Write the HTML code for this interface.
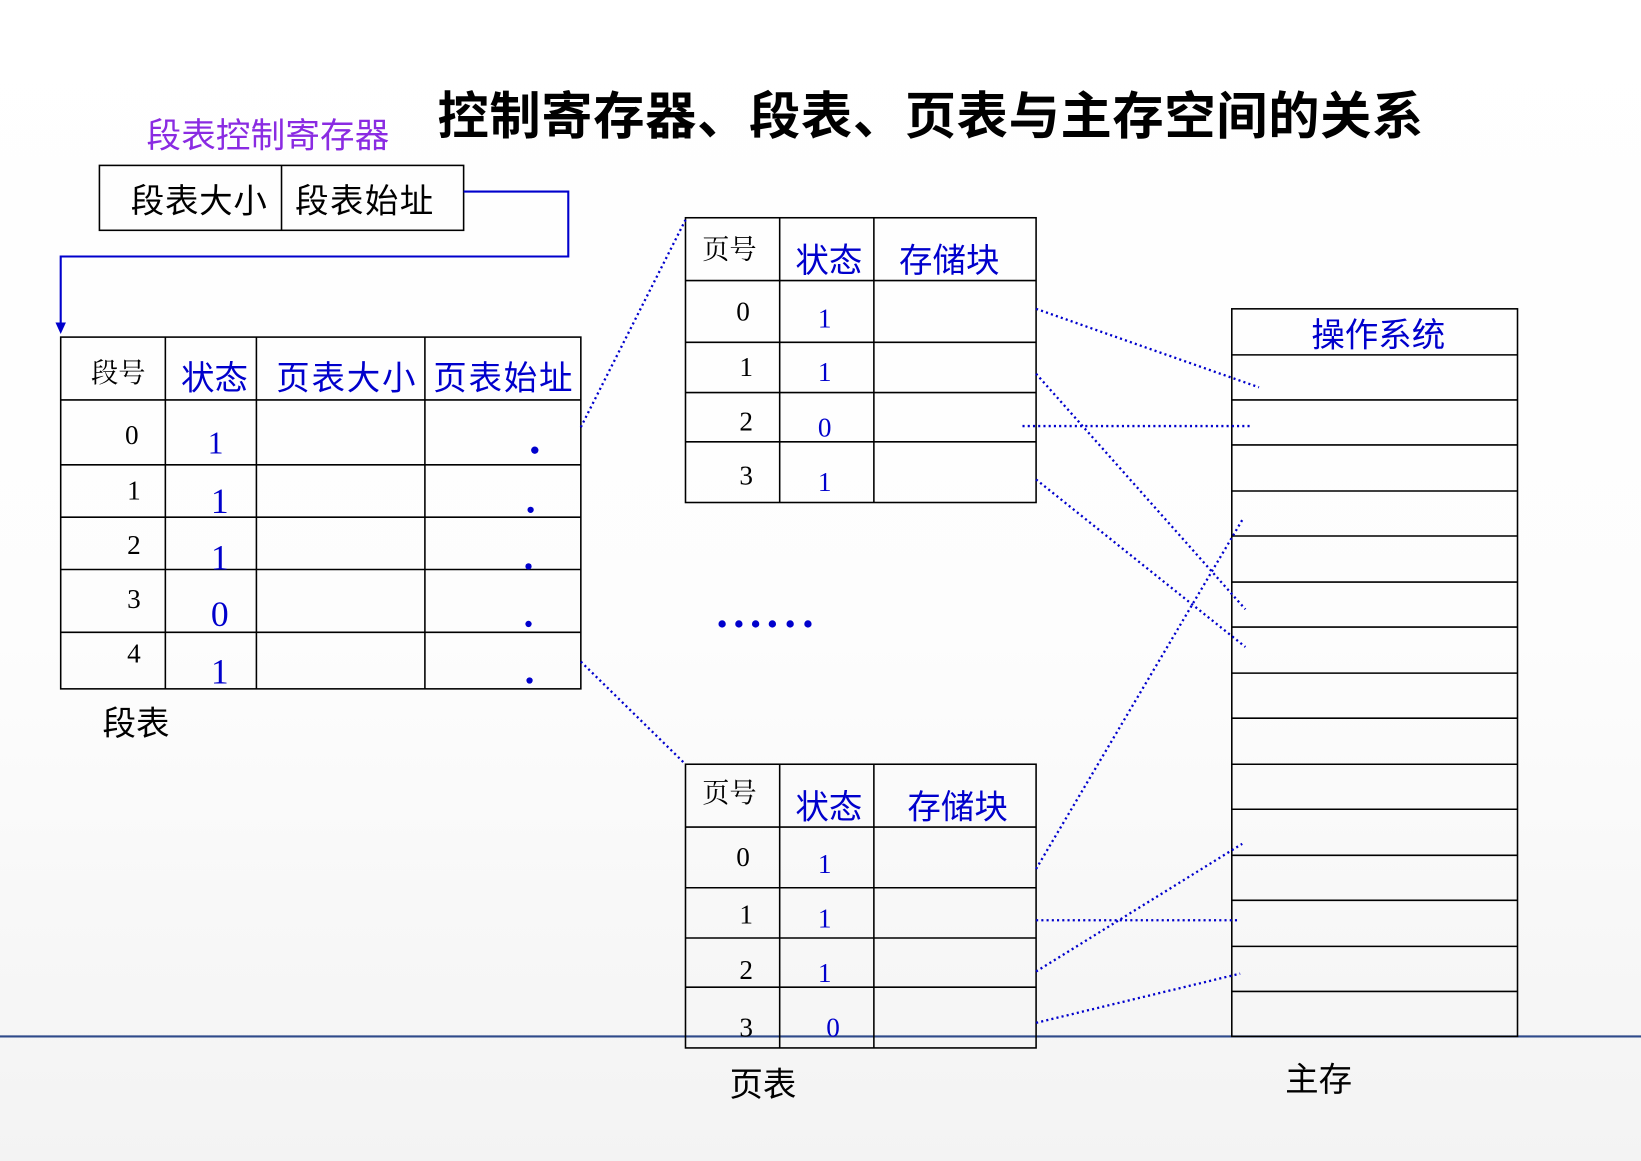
<!DOCTYPE html>
<html><head><meta charset="utf-8"><style>
html,body{margin:0;padding:0;width:1641px;height:1161px;overflow:hidden;background:#fff}
svg{display:block}
.s{font-family:"Liberation Sans","Noto Sans CJK SC",sans-serif}
.r{font-family:"Liberation Serif","Noto Serif CJK SC",serif}
</style></head><body>
<svg width="1641" height="1161" viewBox="0 0 1568 1109" preserveAspectRatio="none">
<defs><linearGradient id="g" x1="0" y1="0" x2="0" y2="1"><stop offset="0" stop-color="#fff"/><stop offset="0.55" stop-color="#fdfdfd"/><stop offset="1" stop-color="#f3f3f3"/></linearGradient></defs>
<rect width="1568" height="1109" fill="url(#g)"/>
<line x1="0" y1="990" x2="1568" y2="990" stroke="#2f4a8a" stroke-width="2"/>
<text x="418" y="128" class="s" font-size="49" font-weight="bold" fill="#000" textLength="942">控制寄存器、段表、页表与主存空间的关系</text>
<text x="140" y="141" class="s" font-size="33" fill="#8a2be2" textLength="232">段表控制寄存器</text>
<g fill="none" stroke="#000" stroke-width="1.5">
<rect x="95" y="158" width="348" height="62"/><line x1="269" y1="158" x2="269" y2="220"/>
</g>
<text x="125" y="203" class="s" font-size="32" textLength="130">段表大小</text>
<text x="282" y="203" class="s" font-size="32" textLength="132">段表始址</text>
<polyline points="443,183 543,183 543,245 58,245 58,312" fill="none" stroke="#0000cc" stroke-width="2"/>
<polygon points="53,308 63,308 58,319" fill="#0000cc"/>
<g fill="none" stroke="#000" stroke-width="1.5">
<rect x="58" y="322" width="497" height="336"/>
<line x1="158" y1="322" x2="158" y2="658"/><line x1="245" y1="322" x2="245" y2="658"/><line x1="406" y1="322" x2="406" y2="658"/>
<line x1="58" y1="382" x2="555" y2="382"/><line x1="58" y1="444" x2="555" y2="444"/><line x1="58" y1="494" x2="555" y2="494"/><line x1="58" y1="544" x2="555" y2="544"/><line x1="58" y1="604" x2="555" y2="604"/>
</g>
<text x="87" y="365" class="r" font-size="26">段号</text>
<g class="s" font-size="32" fill="#0000cc"><text x="173" y="372">状态</text><text x="264" y="372" textLength="133">页表大小</text><text x="414" y="372" textLength="133">页表始址</text></g>
<g class="r" font-size="26" fill="#000" text-anchor="middle"><text x="126" y="424">0</text><text x="128" y="477">1</text><text x="128" y="529">2</text><text x="128" y="581">3</text><text x="128" y="633">4</text></g>
<g class="r" fill="#0000cc" text-anchor="middle"><text x="206" y="433" font-size="30">1</text><text x="210" y="490" font-size="34">1</text><text x="210" y="544" font-size="34">1</text><text x="210" y="598" font-size="34">0</text><text x="210" y="653" font-size="34">1</text></g>
<g fill="#0000cc"><circle cx="511" cy="430" r="3.5"/><circle cx="507" cy="487" r="3"/><circle cx="505" cy="541" r="3"/><circle cx="505" cy="596" r="3"/><circle cx="506" cy="650" r="3"/></g>
<text x="98" y="702" class="s" font-size="32">段表</text>
<g fill="none" stroke="#000" stroke-width="1.5">
<rect x="655" y="208" width="335" height="272"/>
<line x1="745" y1="208" x2="745" y2="480"/><line x1="835" y1="208" x2="835" y2="480"/>
<line x1="655" y1="268" x2="990" y2="268"/><line x1="655" y1="327" x2="990" y2="327"/><line x1="655" y1="375" x2="990" y2="375"/><line x1="655" y1="422" x2="990" y2="422"/>
</g>
<text x="671" y="247" class="r" font-size="26">页号</text>
<g class="s" font-size="32" fill="#0000cc"><text x="760" y="260">状态</text><text x="859" y="260">存储块</text></g>
<g class="r" font-size="26" text-anchor="middle"><text x="710" y="306">0</text><text x="713" y="359">1</text><text x="713" y="411">2</text><text x="713" y="463">3</text></g>
<g class="r" font-size="26" fill="#0000cc" text-anchor="middle"><text x="788" y="313">1</text><text x="788" y="364">1</text><text x="788" y="417">0</text><text x="788" y="469">1</text></g>
<g fill="#0000cc"><circle cx="690" cy="596" r="3.5"/><circle cx="706" cy="596" r="3.5"/><circle cx="722" cy="596" r="3.5"/><circle cx="738" cy="596" r="3.5"/><circle cx="755" cy="596" r="3.5"/><circle cx="772" cy="596" r="3.5"/></g>
<g fill="none" stroke="#000" stroke-width="1.5">
<rect x="655" y="730" width="335" height="271"/>
<line x1="745" y1="730" x2="745" y2="1001"/><line x1="835" y1="730" x2="835" y2="1001"/>
<line x1="655" y1="790" x2="990" y2="790"/><line x1="655" y1="848" x2="990" y2="848"/><line x1="655" y1="896" x2="990" y2="896"/><line x1="655" y1="943" x2="990" y2="943"/>
</g>
<text x="671" y="766" class="r" font-size="26">页号</text>
<g class="s" font-size="32" fill="#0000cc"><text x="760" y="782">状态</text><text x="867" y="782">存储块</text></g>
<g class="r" font-size="26" text-anchor="middle"><text x="710" y="827">0</text><text x="713" y="882">1</text><text x="713" y="935">2</text><text x="713" y="990">3</text></g>
<g class="r" font-size="26" fill="#0000cc" text-anchor="middle"><text x="788" y="834">1</text><text x="788" y="886">1</text><text x="788" y="938">1</text><text x="796" y="990">0</text></g>
<text x="697" y="1047" class="s" font-size="32">页表</text>
<g fill="none" stroke="#000" stroke-width="1.5">
<rect x="1177" y="295" width="273" height="695"/>
<path d="M1177 339H1450M1177 382H1450M1177 425H1450M1177 469H1450M1177 512H1450M1177 556H1450M1177 599H1450M1177 643H1450M1177 686H1450M1177 730H1450M1177 773H1450M1177 817H1450M1177 860H1450M1177 904H1450M1177 947H1450"/>
</g>
<text x="1253" y="331" class="s" font-size="32" fill="#0000cc">操作系统</text>
<text x="1228" y="1042" class="s" font-size="32">主存</text>
<g stroke="#0000cc" stroke-width="2.2" stroke-dasharray="2,3" fill="none">
<line x1="555" y1="408" x2="655" y2="210"/>
<line x1="555" y1="632" x2="655" y2="730"/>
<line x1="990" y1="295" x2="1203" y2="370"/>
<line x1="990" y1="357" x2="1190" y2="582"/>
<line x1="977" y1="407" x2="1197" y2="407"/>
<line x1="990" y1="458" x2="1190" y2="618"/>
<line x1="990" y1="830" x2="1188" y2="495"/>
<line x1="990" y1="879" x2="1185" y2="879"/>
<line x1="990" y1="928" x2="1187" y2="806"/>
<line x1="990" y1="977" x2="1185" y2="930"/>
</g>
</svg>
</body></html>
